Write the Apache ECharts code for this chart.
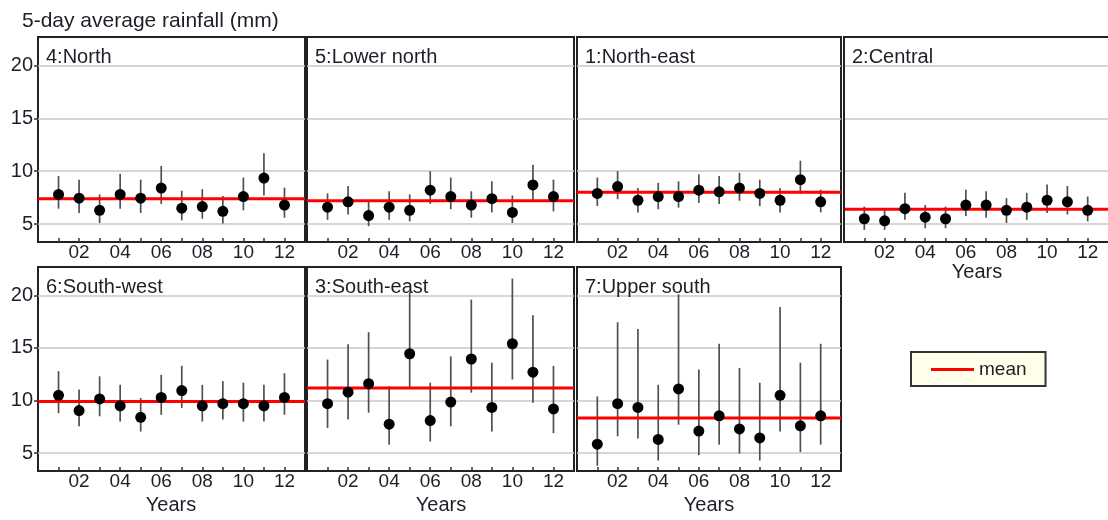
<!DOCTYPE html>
<html>
<head>
<meta charset="utf-8">
<script src="https://cdn.jsdelivr.net/npm/echarts@6/dist/echarts.min.js"></script>
<style>
html,body{margin:0;padding:0;background:#fff;}
#chart{width:1108px;height:520px;}
</style>
</head>
<body>
<div id="chart"></div>
<script>
// ---- data ----
const years = [1,2,3,4,5,6,7,8,9,10,11,12];
const xTickLabels = [2,4,6,8,10,12];
const yTickLabels = [5,10,15,20];
const panelNames = ['4:North','5:Lower north','1:North-east','2:Central','6:South-west','3:South-east','7:Upper south'];
const meanValues = [7.4, 7.2, 8.0, 6.4, 9.9, 11.2, 8.35];

const northAvg  = [7.8, 7.45, 6.3, 7.8, 7.45, 8.4, 6.5, 6.65, 6.2, 7.6, 9.35, 6.8];
const northLow  = [6.45, 6.05, 5.1, 6.45, 6.05, 6.9, 5.35, 5.5, 5.05, 6.3, 7.7, 5.6];
const northHigh = [9.55, 9.2, 7.8, 9.75, 9.2, 10.5, 8.15, 8.3, 7.65, 9.4, 11.7, 8.45];

const lowerNorthAvg  = [6.6, 7.1, 5.8, 6.6, 6.3, 8.2, 7.6, 6.8, 7.4, 6.1, 8.7, 7.6];
const lowerNorthLow  = [5.4, 5.9, 4.8, 5.4, 5.25, 6.9, 6.4, 5.6, 6.1, 5.1, 7.2, 6.2];
const lowerNorthHigh = [7.9, 8.6, 7.1, 8.1, 7.8, 10.0, 9.4, 8.1, 9.05, 7.7, 10.6, 9.2];

const northEastAvg  = [7.9, 8.55, 7.25, 7.6, 7.6, 8.2, 8.05, 8.4, 7.9, 7.25, 9.2, 7.1];
const northEastLow  = [6.7, 7.35, 6.1, 6.4, 6.55, 7.0, 6.9, 7.2, 6.7, 6.1, 7.85, 6.1];
const northEastHigh = [9.4, 10.0, 8.4, 8.9, 9.05, 9.7, 9.55, 9.85, 9.2, 8.4, 11.0, 8.25];

const centralAvg  = [5.5, 5.3, 6.45, 5.65, 5.5, 6.8, 6.8, 6.3, 6.6, 7.25, 7.1, 6.3];
const centralLow  = [4.45, 4.45, 5.4, 4.6, 4.6, 5.75, 5.6, 5.1, 5.4, 6.05, 5.9, 5.25];
const centralHigh = [6.65, 6.5, 7.95, 6.8, 6.65, 8.25, 8.1, 7.45, 7.95, 8.75, 8.6, 7.6];

const southWestAvg  = [10.5, 9.05, 10.15, 9.5, 8.4, 10.3, 10.95, 9.5, 9.7, 9.7, 9.5, 10.3];
const southWestLow  = [8.8, 7.55, 8.5, 8.0, 7.05, 8.65, 9.3, 8.0, 8.2, 8.0, 8.0, 8.65];
const southWestHigh = [12.8, 11.05, 12.3, 11.5, 10.25, 12.45, 13.3, 11.5, 11.85, 11.7, 11.5, 12.6];

const southEastAvg  = [9.7, 10.8, 11.6, 7.75, 14.45, 8.1, 9.85, 13.95, 9.35, 15.4, 12.7, 9.2];
const southEastLow  = [7.4, 8.2, 8.85, 5.8, 11.2, 6.1, 7.55, 10.75, 7.05, 12.0, 9.8, 6.9];
const southEastHigh = [13.9, 15.35, 16.5, 11.35, 20.3, 11.7, 14.2, 19.6, 13.6, 21.6, 18.1, 13.3];

const upperSouthAvg  = [5.85, 9.7, 9.35, 6.3, 11.1, 7.1, 8.55, 7.3, 6.45, 10.5, 7.6, 8.55];
const upperSouthLow  = [3.8, 6.6, 6.4, 4.3, 7.7, 4.8, 5.8, 4.95, 4.3, 7.05, 5.1, 5.8];
const upperSouthHigh = [10.4, 17.45, 16.8, 11.5, 20.1, 12.95, 15.4, 13.1, 11.7, 18.9, 13.6, 15.4];

const panelAvg  = [northAvg, lowerNorthAvg, northEastAvg, centralAvg, southWestAvg, southEastAvg, upperSouthAvg];
const panelLow  = [northLow, lowerNorthLow, northEastLow, centralLow, southWestLow, southEastLow, upperSouthLow];
const panelHigh = [northHigh, lowerNorthHigh, northEastHigh, centralHigh, southWestHigh, southEastHigh, upperSouthHigh];

// ---- layout ----
const FONT = 'Liberation Sans, Arial, sans-serif';
const TXT = '#1e1e28';
const gridRects = [
  {left: 38,  top: 37,  width: 267, height: 205},
  {left: 307, top: 37,  width: 267, height: 205},
  {left: 577, top: 37,  width: 264, height: 205},
  {left: 844, top: 37,  width: 267, height: 205},
  {left: 38,  top: 267, width: 267, height: 204},
  {left: 307, top: 267, width: 267, height: 204},
  {left: 577, top: 267, width: 264, height: 204}
];
const showYLabels = [true, false, false, false, true, false, false];
const frameByGrid = [true, true, true, false, true, true, true];

const grids = [], xAxes = [], yAxes = [], series = [], graphics = [];
gridRects.forEach((g, i) => {
  grids.push(Object.assign({show: frameByGrid[i], borderColor: '#222', borderWidth: 2, backgroundColor: 'transparent'}, g));
  if (!frameByGrid[i]) {
    // panel frame running past the right edge of the picture
    graphics.push({type: 'rect', z: 20, silent: true,
      shape: {x: g.left, y: g.top, width: 280, height: g.height},
      style: {fill: 'none', stroke: '#222', lineWidth: 2}});
  }
  xAxes.push({
    type: 'value', gridIndex: i, min: 0, max: 13, interval: 1,
    axisLine: {show: false},
    axisTick: {show: true, inside: true, length: 4, customValues: years, lineStyle: {color: '#333', width: 1.5}},
    splitLine: {show: false},
    axisLabel: {
      show: true, margin: 1, color: TXT, fontFamily: FONT, fontSize: 19,
      customValues: xTickLabels,
      formatter: v => String(v).padStart(2, '0')
    }
  });
  yAxes.push({
    type: 'value', gridIndex: i, min: 3.3, max: 22.7, splitNumber: 4,
    axisLine: {show: false},
    axisTick: {show: showYLabels[i], length: 4, customValues: yTickLabels, lineStyle: {color: '#333', width: 1.5}},
    splitLine: {show: true, lineStyle: {color: '#c8c8c8', width: 1.5}},
    axisLabel: {
      show: showYLabels[i], margin: 5, color: TXT, fontFamily: FONT, fontSize: 20,
      customValues: yTickLabels,
      formatter: v => String(v)
    }
  });
  const bars = years.map((y, k) => [y, panelLow[i][k], panelHigh[i][k]]);
  series.push({
    type: 'custom', xAxisIndex: i, yAxisIndex: i, z: 3, silent: true,
    data: bars,
    renderItem: (params, api) => {
      const x = api.value(0);
      const p1 = api.coord([x, api.value(1)]);
      const p2 = api.coord([x, api.value(2)]);
      return {type: 'line', shape: {x1: p1[0], y1: p1[1], x2: p2[0], y2: p2[1]},
              style: {stroke: '#505050', lineWidth: 1.7}};
    }
  });
  series.push({
    name: 'mean', type: 'line', xAxisIndex: i, yAxisIndex: i, z: 4, silent: true,
    symbol: 'none', color: '#ff0000',
    lineStyle: {color: '#ff0000', width: 3},
    data: [[0, meanValues[i]], [13, meanValues[i]]]
  });
  series.push({
    type: 'scatter', xAxisIndex: i, yAxisIndex: i, z: 5, silent: true,
    symbol: 'circle', symbolSize: 11, itemStyle: {color: '#000', opacity: 1},
    data: years.map((y, k) => [y, panelAvg[i][k]])
  });
  graphics.push({
    type: 'text', left: g.left + 8, top: g.top + 10, z: 10,
    style: {text: panelNames[i], fill: TXT, font: '20px ' + FONT}
  });
});

graphics.push({type: 'text', left: 22, top: 11, style: {text: '5-day average rainfall (mm)', fill: TXT, font: '21px ' + FONT}});
graphics.push({type: 'text', x: 977, y: 272, style: {text: 'Years', fill: TXT, font: '20px ' + FONT, textAlign: 'center', textVerticalAlign: 'middle'}});
[171, 441, 709].forEach(cx => {
  graphics.push({type: 'text', x: cx, y: 505, style: {text: 'Years', fill: TXT, font: '20px ' + FONT, textAlign: 'center', textVerticalAlign: 'middle'}});
});

const chart = echarts.init(document.getElementById('chart'), null, {renderer: 'canvas'});
chart.setOption({
  animation: false,
  backgroundColor: '#fff',
  grid: grids,
  xAxis: xAxes,
  yAxis: yAxes,
  series: series,
  graphic: graphics,
  legend: {
    data: [{name: 'mean', icon: 'rect'}],
    left: 911, top: 352,
    padding: [8, 19, 7, 20],
    itemWidth: 43, itemHeight: 3, itemGap: 6,
    backgroundColor: '#ffffea', borderColor: '#333', borderWidth: 2, borderRadius: 0,
    textStyle: {color: TXT, fontFamily: FONT, fontSize: 19},
    selectedMode: false
  }
});
</script>
</body>
</html>
